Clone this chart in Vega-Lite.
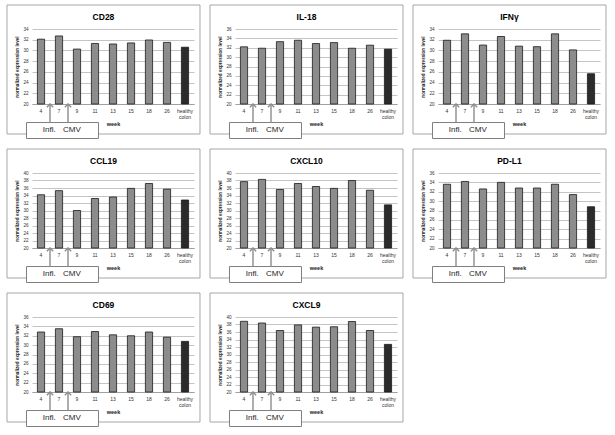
{
  "$schema": "https://vega.github.io/schema/vega-lite/v6.json",
  "padding": {"left": 6, "top": 4, "right": 4, "bottom": 2},
  "background": "white",
  "datasets": {
    "expr": [
      {"gene": "CD28", "week": "4", "value": 32.1}, {"gene": "CD28", "week": "7", "value": 32.7}, {"gene": "CD28", "week": "9", "value": 30.25}, {"gene": "CD28", "week": "11", "value": 31.3}, {"gene": "CD28", "week": "13", "value": 31.2}, {"gene": "CD28", "week": "15", "value": 31.4}, {"gene": "CD28", "week": "18", "value": 31.95}, {"gene": "CD28", "week": "26", "value": 31.5}, {"gene": "CD28", "week": "healthy colon", "value": 30.6},
      {"gene": "IL-18", "week": "4", "value": 32.2}, {"gene": "IL-18", "week": "7", "value": 31.9}, {"gene": "IL-18", "week": "9", "value": 33.3}, {"gene": "IL-18", "week": "11", "value": 33.6}, {"gene": "IL-18", "week": "13", "value": 32.9}, {"gene": "IL-18", "week": "15", "value": 33.1}, {"gene": "IL-18", "week": "18", "value": 31.9}, {"gene": "IL-18", "week": "26", "value": 32.55}, {"gene": "IL-18", "week": "healthy colon", "value": 31.7},
      {"gene": "IFNγ", "week": "4", "value": 31.9}, {"gene": "IFNγ", "week": "7", "value": 33.1}, {"gene": "IFNγ", "week": "9", "value": 31.0}, {"gene": "IFNγ", "week": "11", "value": 32.6}, {"gene": "IFNγ", "week": "13", "value": 30.8}, {"gene": "IFNγ", "week": "15", "value": 30.7}, {"gene": "IFNγ", "week": "18", "value": 33.1}, {"gene": "IFNγ", "week": "26", "value": 30.1}, {"gene": "IFNγ", "week": "healthy colon", "value": 25.65},
      {"gene": "CCL19", "week": "4", "value": 34.2}, {"gene": "CCL19", "week": "7", "value": 35.3}, {"gene": "CCL19", "week": "9", "value": 30.0}, {"gene": "CCL19", "week": "11", "value": 33.2}, {"gene": "CCL19", "week": "13", "value": 33.6}, {"gene": "CCL19", "week": "15", "value": 35.9}, {"gene": "CCL19", "week": "18", "value": 37.2}, {"gene": "CCL19", "week": "26", "value": 35.7}, {"gene": "CCL19", "week": "healthy colon", "value": 32.8},
      {"gene": "CXCL10", "week": "4", "value": 37.7}, {"gene": "CXCL10", "week": "7", "value": 38.3}, {"gene": "CXCL10", "week": "9", "value": 35.6}, {"gene": "CXCL10", "week": "11", "value": 37.2}, {"gene": "CXCL10", "week": "13", "value": 36.4}, {"gene": "CXCL10", "week": "15", "value": 35.9}, {"gene": "CXCL10", "week": "18", "value": 38.0}, {"gene": "CXCL10", "week": "26", "value": 35.4}, {"gene": "CXCL10", "week": "healthy colon", "value": 31.5},
      {"gene": "PD-L1", "week": "4", "value": 33.6}, {"gene": "PD-L1", "week": "7", "value": 34.2}, {"gene": "PD-L1", "week": "9", "value": 32.6}, {"gene": "PD-L1", "week": "11", "value": 34.0}, {"gene": "PD-L1", "week": "13", "value": 32.8}, {"gene": "PD-L1", "week": "15", "value": 32.8}, {"gene": "PD-L1", "week": "18", "value": 33.6}, {"gene": "PD-L1", "week": "26", "value": 31.4}, {"gene": "PD-L1", "week": "healthy colon", "value": 28.8},
      {"gene": "CD69", "week": "4", "value": 32.8}, {"gene": "CD69", "week": "7", "value": 33.5}, {"gene": "CD69", "week": "9", "value": 31.8}, {"gene": "CD69", "week": "11", "value": 32.9}, {"gene": "CD69", "week": "13", "value": 32.2}, {"gene": "CD69", "week": "15", "value": 32.0}, {"gene": "CD69", "week": "18", "value": 32.8}, {"gene": "CD69", "week": "26", "value": 31.7}, {"gene": "CD69", "week": "healthy colon", "value": 30.8},
      {"gene": "CXCL9", "week": "4", "value": 38.85}, {"gene": "CXCL9", "week": "7", "value": 38.4}, {"gene": "CXCL9", "week": "9", "value": 36.4}, {"gene": "CXCL9", "week": "11", "value": 37.9}, {"gene": "CXCL9", "week": "13", "value": 37.3}, {"gene": "CXCL9", "week": "15", "value": 37.4}, {"gene": "CXCL9", "week": "18", "value": 38.8}, {"gene": "CXCL9", "week": "26", "value": 36.4}, {"gene": "CXCL9", "week": "healthy colon", "value": 32.7}
    ],
    "one": [{}]
  },
  "data": {"name": "expr"},
  "columns": 3,
  "spacing": {"row": 9, "column": 8},
  "concat": [
    {"width": 162, "height": 75, "resolve": {"scale": {"x": "independent", "y": "independent"}},
      "layer": [
        {"transform": [{"filter": "datum.gene == 'CD28'"}], "mark": {"type": "bar", "stroke": "#1a1a1a", "strokeWidth": 0.8},
          "encoding": {"x": {"field": "week", "type": "ordinal", "sort": null, "title": "week", "scale": {"paddingInner": 0.6, "paddingOuter": 0.3}, "axis": {"labelExpr": "datum.value == 'healthy colon' ? ['healthy', 'colon'] : datum.label"}},
            "y": {"field": "value", "type": "quantitative", "title": "normalized expression level", "scale": {"domain": [20, 34], "nice": false, "zero": false}, "axis": {"values": [20, 22, 24, 26, 28, 30, 32, 34]}},
            "y2": {"datum": 20}, "color": {"condition": {"test": "datum.week == 'healthy colon'", "value": "#2b2b2b"}, "value": "#8c8c8c"}}},
        {"data": {"name": "one"}, "layer": [
          {"mark": {"type": "rect", "filled": false, "stroke": "#a6a6a6", "strokeWidth": 1}, "encoding": {"x": {"datum": -1.389, "type": "quantitative", "scale": {"domain": [0, 9], "nice": false, "zero": false}, "axis": null}, "x2": {"datum": 9.333}, "y": {"datum": 1.32, "type": "quantitative", "scale": {"domain": [0, 1], "nice": false, "zero": false}, "axis": null}, "y2": {"datum": -0.4}}},
          {"mark": {"type": "rect", "fill": "white", "stroke": "#7f7f7f", "strokeWidth": 1}, "encoding": {"x": {"datum": -0.306, "type": "quantitative", "scale": {"domain": [0, 9], "nice": false, "zero": false}, "axis": null}, "x2": {"datum": 3.694}, "y": {"datum": -0.247, "type": "quantitative", "scale": {"domain": [0, 1], "nice": false, "zero": false}, "axis": null}, "y2": {"datum": -0.46}}},
          {"mark": {"type": "rule", "stroke": "#8c8c8c", "strokeWidth": 1.4}, "encoding": {"x": {"datum": 1, "type": "quantitative", "scale": {"domain": [0, 9], "nice": false, "zero": false}, "axis": null}, "y": {"datum": -0.247, "type": "quantitative", "scale": {"domain": [0, 1], "nice": false, "zero": false}, "axis": null}, "y2": {"datum": 0.005}}},
          {"mark": {"type": "rule", "stroke": "#8c8c8c", "strokeWidth": 1.4}, "encoding": {"x": {"datum": 2, "type": "quantitative", "scale": {"domain": [0, 9], "nice": false, "zero": false}, "axis": null}, "y": {"datum": -0.247, "type": "quantitative", "scale": {"domain": [0, 1], "nice": false, "zero": false}, "axis": null}, "y2": {"datum": 0.005}}},
          {"mark": {"type": "point", "shape": "M-1,1L0,0L1,1", "filled": false, "size": 40, "stroke": "#8c8c8c", "strokeWidth": 1.4, "opacity": 1}, "encoding": {"x": {"datum": 1, "type": "quantitative", "scale": {"domain": [0, 9], "nice": false, "zero": false}, "axis": null}, "y": {"datum": 0, "type": "quantitative", "scale": {"domain": [0, 1], "nice": false, "zero": false}, "axis": null}}},
          {"mark": {"type": "point", "shape": "M-1,1L0,0L1,1", "filled": false, "size": 40, "stroke": "#8c8c8c", "strokeWidth": 1.4, "opacity": 1}, "encoding": {"x": {"datum": 2, "type": "quantitative", "scale": {"domain": [0, 9], "nice": false, "zero": false}, "axis": null}, "y": {"datum": 0, "type": "quantitative", "scale": {"domain": [0, 1], "nice": false, "zero": false}, "axis": null}}},
          {"mark": {"type": "text", "text": "Infl.", "fontSize": 8, "fill": "#262626", "baseline": "middle"}, "encoding": {"x": {"datum": 0.96, "type": "quantitative", "scale": {"domain": [0, 9], "nice": false, "zero": false}, "axis": null}, "y": {"datum": -0.353, "type": "quantitative", "scale": {"domain": [0, 1], "nice": false, "zero": false}, "axis": null}}},
          {"mark": {"type": "text", "text": "CMV", "fontSize": 8, "fill": "#262626", "baseline": "middle"}, "encoding": {"x": {"datum": 2.22, "type": "quantitative", "scale": {"domain": [0, 9], "nice": false, "zero": false}, "axis": null}, "y": {"datum": -0.353, "type": "quantitative", "scale": {"domain": [0, 1], "nice": false, "zero": false}, "axis": null}}},
          {"mark": {"type": "text", "text": "CD28", "fontSize": 8.5, "fontWeight": "bold", "fill": "#000000", "baseline": "middle"}, "encoding": {"x": {"datum": 3.97, "type": "quantitative", "scale": {"domain": [0, 9], "nice": false, "zero": false}, "axis": null}, "y": {"datum": 1.16, "type": "quantitative", "scale": {"domain": [0, 1], "nice": false, "zero": false}, "axis": null}}}
        ]}
      ]},
    {"width": 162, "height": 75, "resolve": {"scale": {"x": "independent", "y": "independent"}},
      "layer": [
        {"transform": [{"filter": "datum.gene == 'IL-18'"}], "mark": {"type": "bar", "stroke": "#1a1a1a", "strokeWidth": 0.8},
          "encoding": {"x": {"field": "week", "type": "ordinal", "sort": null, "title": "week", "scale": {"paddingInner": 0.6, "paddingOuter": 0.3}, "axis": {"labelExpr": "datum.value == 'healthy colon' ? ['healthy', 'colon'] : datum.label"}},
            "y": {"field": "value", "type": "quantitative", "title": "normalized expression level", "scale": {"domain": [20, 36], "nice": false, "zero": false}, "axis": {"values": [20, 22, 24, 26, 28, 30, 32, 34, 36]}},
            "y2": {"datum": 20}, "color": {"condition": {"test": "datum.week == 'healthy colon'", "value": "#2b2b2b"}, "value": "#8c8c8c"}}},
        {"data": {"name": "one"}, "layer": [
          {"mark": {"type": "rect", "filled": false, "stroke": "#a6a6a6", "strokeWidth": 1}, "encoding": {"x": {"datum": -1.389, "type": "quantitative", "scale": {"domain": [0, 9], "nice": false, "zero": false}, "axis": null}, "x2": {"datum": 9.333}, "y": {"datum": 1.32, "type": "quantitative", "scale": {"domain": [0, 1], "nice": false, "zero": false}, "axis": null}, "y2": {"datum": -0.4}}},
          {"mark": {"type": "rect", "fill": "white", "stroke": "#7f7f7f", "strokeWidth": 1}, "encoding": {"x": {"datum": -0.306, "type": "quantitative", "scale": {"domain": [0, 9], "nice": false, "zero": false}, "axis": null}, "x2": {"datum": 3.694}, "y": {"datum": -0.247, "type": "quantitative", "scale": {"domain": [0, 1], "nice": false, "zero": false}, "axis": null}, "y2": {"datum": -0.46}}},
          {"mark": {"type": "rule", "stroke": "#8c8c8c", "strokeWidth": 1.4}, "encoding": {"x": {"datum": 1, "type": "quantitative", "scale": {"domain": [0, 9], "nice": false, "zero": false}, "axis": null}, "y": {"datum": -0.247, "type": "quantitative", "scale": {"domain": [0, 1], "nice": false, "zero": false}, "axis": null}, "y2": {"datum": 0.005}}},
          {"mark": {"type": "rule", "stroke": "#8c8c8c", "strokeWidth": 1.4}, "encoding": {"x": {"datum": 2, "type": "quantitative", "scale": {"domain": [0, 9], "nice": false, "zero": false}, "axis": null}, "y": {"datum": -0.247, "type": "quantitative", "scale": {"domain": [0, 1], "nice": false, "zero": false}, "axis": null}, "y2": {"datum": 0.005}}},
          {"mark": {"type": "point", "shape": "M-1,1L0,0L1,1", "filled": false, "size": 40, "stroke": "#8c8c8c", "strokeWidth": 1.4, "opacity": 1}, "encoding": {"x": {"datum": 1, "type": "quantitative", "scale": {"domain": [0, 9], "nice": false, "zero": false}, "axis": null}, "y": {"datum": 0, "type": "quantitative", "scale": {"domain": [0, 1], "nice": false, "zero": false}, "axis": null}}},
          {"mark": {"type": "point", "shape": "M-1,1L0,0L1,1", "filled": false, "size": 40, "stroke": "#8c8c8c", "strokeWidth": 1.4, "opacity": 1}, "encoding": {"x": {"datum": 2, "type": "quantitative", "scale": {"domain": [0, 9], "nice": false, "zero": false}, "axis": null}, "y": {"datum": 0, "type": "quantitative", "scale": {"domain": [0, 1], "nice": false, "zero": false}, "axis": null}}},
          {"mark": {"type": "text", "text": "Infl.", "fontSize": 8, "fill": "#262626", "baseline": "middle"}, "encoding": {"x": {"datum": 0.96, "type": "quantitative", "scale": {"domain": [0, 9], "nice": false, "zero": false}, "axis": null}, "y": {"datum": -0.353, "type": "quantitative", "scale": {"domain": [0, 1], "nice": false, "zero": false}, "axis": null}}},
          {"mark": {"type": "text", "text": "CMV", "fontSize": 8, "fill": "#262626", "baseline": "middle"}, "encoding": {"x": {"datum": 2.22, "type": "quantitative", "scale": {"domain": [0, 9], "nice": false, "zero": false}, "axis": null}, "y": {"datum": -0.353, "type": "quantitative", "scale": {"domain": [0, 1], "nice": false, "zero": false}, "axis": null}}},
          {"mark": {"type": "text", "text": "IL-18", "fontSize": 8.5, "fontWeight": "bold", "fill": "#000000", "baseline": "middle"}, "encoding": {"x": {"datum": 3.97, "type": "quantitative", "scale": {"domain": [0, 9], "nice": false, "zero": false}, "axis": null}, "y": {"datum": 1.16, "type": "quantitative", "scale": {"domain": [0, 1], "nice": false, "zero": false}, "axis": null}}}
        ]}
      ]},
    {"width": 162, "height": 75, "resolve": {"scale": {"x": "independent", "y": "independent"}},
      "layer": [
        {"transform": [{"filter": "datum.gene == 'IFNγ'"}], "mark": {"type": "bar", "stroke": "#1a1a1a", "strokeWidth": 0.8},
          "encoding": {"x": {"field": "week", "type": "ordinal", "sort": null, "title": "week", "scale": {"paddingInner": 0.6, "paddingOuter": 0.3}, "axis": {"labelExpr": "datum.value == 'healthy colon' ? ['healthy', 'colon'] : datum.label"}},
            "y": {"field": "value", "type": "quantitative", "title": "normalized expression level", "scale": {"domain": [20, 34], "nice": false, "zero": false}, "axis": {"values": [20, 22, 24, 26, 28, 30, 32, 34]}},
            "y2": {"datum": 20}, "color": {"condition": {"test": "datum.week == 'healthy colon'", "value": "#2b2b2b"}, "value": "#8c8c8c"}}},
        {"data": {"name": "one"}, "layer": [
          {"mark": {"type": "rect", "filled": false, "stroke": "#a6a6a6", "strokeWidth": 1}, "encoding": {"x": {"datum": -1.389, "type": "quantitative", "scale": {"domain": [0, 9], "nice": false, "zero": false}, "axis": null}, "x2": {"datum": 9.333}, "y": {"datum": 1.32, "type": "quantitative", "scale": {"domain": [0, 1], "nice": false, "zero": false}, "axis": null}, "y2": {"datum": -0.4}}},
          {"mark": {"type": "rect", "fill": "white", "stroke": "#7f7f7f", "strokeWidth": 1}, "encoding": {"x": {"datum": -0.306, "type": "quantitative", "scale": {"domain": [0, 9], "nice": false, "zero": false}, "axis": null}, "x2": {"datum": 3.694}, "y": {"datum": -0.247, "type": "quantitative", "scale": {"domain": [0, 1], "nice": false, "zero": false}, "axis": null}, "y2": {"datum": -0.46}}},
          {"mark": {"type": "rule", "stroke": "#8c8c8c", "strokeWidth": 1.4}, "encoding": {"x": {"datum": 1, "type": "quantitative", "scale": {"domain": [0, 9], "nice": false, "zero": false}, "axis": null}, "y": {"datum": -0.247, "type": "quantitative", "scale": {"domain": [0, 1], "nice": false, "zero": false}, "axis": null}, "y2": {"datum": 0.005}}},
          {"mark": {"type": "rule", "stroke": "#8c8c8c", "strokeWidth": 1.4}, "encoding": {"x": {"datum": 2, "type": "quantitative", "scale": {"domain": [0, 9], "nice": false, "zero": false}, "axis": null}, "y": {"datum": -0.247, "type": "quantitative", "scale": {"domain": [0, 1], "nice": false, "zero": false}, "axis": null}, "y2": {"datum": 0.005}}},
          {"mark": {"type": "point", "shape": "M-1,1L0,0L1,1", "filled": false, "size": 40, "stroke": "#8c8c8c", "strokeWidth": 1.4, "opacity": 1}, "encoding": {"x": {"datum": 1, "type": "quantitative", "scale": {"domain": [0, 9], "nice": false, "zero": false}, "axis": null}, "y": {"datum": 0, "type": "quantitative", "scale": {"domain": [0, 1], "nice": false, "zero": false}, "axis": null}}},
          {"mark": {"type": "point", "shape": "M-1,1L0,0L1,1", "filled": false, "size": 40, "stroke": "#8c8c8c", "strokeWidth": 1.4, "opacity": 1}, "encoding": {"x": {"datum": 2, "type": "quantitative", "scale": {"domain": [0, 9], "nice": false, "zero": false}, "axis": null}, "y": {"datum": 0, "type": "quantitative", "scale": {"domain": [0, 1], "nice": false, "zero": false}, "axis": null}}},
          {"mark": {"type": "text", "text": "Infl.", "fontSize": 8, "fill": "#262626", "baseline": "middle"}, "encoding": {"x": {"datum": 0.96, "type": "quantitative", "scale": {"domain": [0, 9], "nice": false, "zero": false}, "axis": null}, "y": {"datum": -0.353, "type": "quantitative", "scale": {"domain": [0, 1], "nice": false, "zero": false}, "axis": null}}},
          {"mark": {"type": "text", "text": "CMV", "fontSize": 8, "fill": "#262626", "baseline": "middle"}, "encoding": {"x": {"datum": 2.22, "type": "quantitative", "scale": {"domain": [0, 9], "nice": false, "zero": false}, "axis": null}, "y": {"datum": -0.353, "type": "quantitative", "scale": {"domain": [0, 1], "nice": false, "zero": false}, "axis": null}}},
          {"mark": {"type": "text", "text": "IFNγ", "fontSize": 8.5, "fontWeight": "bold", "fill": "#000000", "baseline": "middle"}, "encoding": {"x": {"datum": 3.97, "type": "quantitative", "scale": {"domain": [0, 9], "nice": false, "zero": false}, "axis": null}, "y": {"datum": 1.16, "type": "quantitative", "scale": {"domain": [0, 1], "nice": false, "zero": false}, "axis": null}}}
        ]}
      ]},
    {"width": 162, "height": 75, "resolve": {"scale": {"x": "independent", "y": "independent"}},
      "layer": [
        {"transform": [{"filter": "datum.gene == 'CCL19'"}], "mark": {"type": "bar", "stroke": "#1a1a1a", "strokeWidth": 0.8},
          "encoding": {"x": {"field": "week", "type": "ordinal", "sort": null, "title": "week", "scale": {"paddingInner": 0.6, "paddingOuter": 0.3}, "axis": {"labelExpr": "datum.value == 'healthy colon' ? ['healthy', 'colon'] : datum.label"}},
            "y": {"field": "value", "type": "quantitative", "title": "normalized expression level", "scale": {"domain": [20, 40], "nice": false, "zero": false}, "axis": {"values": [20, 22, 24, 26, 28, 30, 32, 34, 36, 38, 40]}},
            "y2": {"datum": 20}, "color": {"condition": {"test": "datum.week == 'healthy colon'", "value": "#2b2b2b"}, "value": "#8c8c8c"}}},
        {"data": {"name": "one"}, "layer": [
          {"mark": {"type": "rect", "filled": false, "stroke": "#a6a6a6", "strokeWidth": 1}, "encoding": {"x": {"datum": -1.389, "type": "quantitative", "scale": {"domain": [0, 9], "nice": false, "zero": false}, "axis": null}, "x2": {"datum": 9.333}, "y": {"datum": 1.32, "type": "quantitative", "scale": {"domain": [0, 1], "nice": false, "zero": false}, "axis": null}, "y2": {"datum": -0.4}}},
          {"mark": {"type": "rect", "fill": "white", "stroke": "#7f7f7f", "strokeWidth": 1}, "encoding": {"x": {"datum": -0.306, "type": "quantitative", "scale": {"domain": [0, 9], "nice": false, "zero": false}, "axis": null}, "x2": {"datum": 3.694}, "y": {"datum": -0.247, "type": "quantitative", "scale": {"domain": [0, 1], "nice": false, "zero": false}, "axis": null}, "y2": {"datum": -0.46}}},
          {"mark": {"type": "rule", "stroke": "#8c8c8c", "strokeWidth": 1.4}, "encoding": {"x": {"datum": 1, "type": "quantitative", "scale": {"domain": [0, 9], "nice": false, "zero": false}, "axis": null}, "y": {"datum": -0.247, "type": "quantitative", "scale": {"domain": [0, 1], "nice": false, "zero": false}, "axis": null}, "y2": {"datum": 0.005}}},
          {"mark": {"type": "rule", "stroke": "#8c8c8c", "strokeWidth": 1.4}, "encoding": {"x": {"datum": 2, "type": "quantitative", "scale": {"domain": [0, 9], "nice": false, "zero": false}, "axis": null}, "y": {"datum": -0.247, "type": "quantitative", "scale": {"domain": [0, 1], "nice": false, "zero": false}, "axis": null}, "y2": {"datum": 0.005}}},
          {"mark": {"type": "point", "shape": "M-1,1L0,0L1,1", "filled": false, "size": 40, "stroke": "#8c8c8c", "strokeWidth": 1.4, "opacity": 1}, "encoding": {"x": {"datum": 1, "type": "quantitative", "scale": {"domain": [0, 9], "nice": false, "zero": false}, "axis": null}, "y": {"datum": 0, "type": "quantitative", "scale": {"domain": [0, 1], "nice": false, "zero": false}, "axis": null}}},
          {"mark": {"type": "point", "shape": "M-1,1L0,0L1,1", "filled": false, "size": 40, "stroke": "#8c8c8c", "strokeWidth": 1.4, "opacity": 1}, "encoding": {"x": {"datum": 2, "type": "quantitative", "scale": {"domain": [0, 9], "nice": false, "zero": false}, "axis": null}, "y": {"datum": 0, "type": "quantitative", "scale": {"domain": [0, 1], "nice": false, "zero": false}, "axis": null}}},
          {"mark": {"type": "text", "text": "Infl.", "fontSize": 8, "fill": "#262626", "baseline": "middle"}, "encoding": {"x": {"datum": 0.96, "type": "quantitative", "scale": {"domain": [0, 9], "nice": false, "zero": false}, "axis": null}, "y": {"datum": -0.353, "type": "quantitative", "scale": {"domain": [0, 1], "nice": false, "zero": false}, "axis": null}}},
          {"mark": {"type": "text", "text": "CMV", "fontSize": 8, "fill": "#262626", "baseline": "middle"}, "encoding": {"x": {"datum": 2.22, "type": "quantitative", "scale": {"domain": [0, 9], "nice": false, "zero": false}, "axis": null}, "y": {"datum": -0.353, "type": "quantitative", "scale": {"domain": [0, 1], "nice": false, "zero": false}, "axis": null}}},
          {"mark": {"type": "text", "text": "CCL19", "fontSize": 8.5, "fontWeight": "bold", "fill": "#000000", "baseline": "middle"}, "encoding": {"x": {"datum": 3.97, "type": "quantitative", "scale": {"domain": [0, 9], "nice": false, "zero": false}, "axis": null}, "y": {"datum": 1.16, "type": "quantitative", "scale": {"domain": [0, 1], "nice": false, "zero": false}, "axis": null}}}
        ]}
      ]},
    {"width": 162, "height": 75, "resolve": {"scale": {"x": "independent", "y": "independent"}},
      "layer": [
        {"transform": [{"filter": "datum.gene == 'CXCL10'"}], "mark": {"type": "bar", "stroke": "#1a1a1a", "strokeWidth": 0.8},
          "encoding": {"x": {"field": "week", "type": "ordinal", "sort": null, "title": "week", "scale": {"paddingInner": 0.6, "paddingOuter": 0.3}, "axis": {"labelExpr": "datum.value == 'healthy colon' ? ['healthy', 'colon'] : datum.label"}},
            "y": {"field": "value", "type": "quantitative", "title": "normalized expression level", "scale": {"domain": [20, 40], "nice": false, "zero": false}, "axis": {"values": [20, 22, 24, 26, 28, 30, 32, 34, 36, 38, 40]}},
            "y2": {"datum": 20}, "color": {"condition": {"test": "datum.week == 'healthy colon'", "value": "#2b2b2b"}, "value": "#8c8c8c"}}},
        {"data": {"name": "one"}, "layer": [
          {"mark": {"type": "rect", "filled": false, "stroke": "#a6a6a6", "strokeWidth": 1}, "encoding": {"x": {"datum": -1.389, "type": "quantitative", "scale": {"domain": [0, 9], "nice": false, "zero": false}, "axis": null}, "x2": {"datum": 9.333}, "y": {"datum": 1.32, "type": "quantitative", "scale": {"domain": [0, 1], "nice": false, "zero": false}, "axis": null}, "y2": {"datum": -0.4}}},
          {"mark": {"type": "rect", "fill": "white", "stroke": "#7f7f7f", "strokeWidth": 1}, "encoding": {"x": {"datum": -0.306, "type": "quantitative", "scale": {"domain": [0, 9], "nice": false, "zero": false}, "axis": null}, "x2": {"datum": 3.694}, "y": {"datum": -0.247, "type": "quantitative", "scale": {"domain": [0, 1], "nice": false, "zero": false}, "axis": null}, "y2": {"datum": -0.46}}},
          {"mark": {"type": "rule", "stroke": "#8c8c8c", "strokeWidth": 1.4}, "encoding": {"x": {"datum": 1, "type": "quantitative", "scale": {"domain": [0, 9], "nice": false, "zero": false}, "axis": null}, "y": {"datum": -0.247, "type": "quantitative", "scale": {"domain": [0, 1], "nice": false, "zero": false}, "axis": null}, "y2": {"datum": 0.005}}},
          {"mark": {"type": "rule", "stroke": "#8c8c8c", "strokeWidth": 1.4}, "encoding": {"x": {"datum": 2, "type": "quantitative", "scale": {"domain": [0, 9], "nice": false, "zero": false}, "axis": null}, "y": {"datum": -0.247, "type": "quantitative", "scale": {"domain": [0, 1], "nice": false, "zero": false}, "axis": null}, "y2": {"datum": 0.005}}},
          {"mark": {"type": "point", "shape": "M-1,1L0,0L1,1", "filled": false, "size": 40, "stroke": "#8c8c8c", "strokeWidth": 1.4, "opacity": 1}, "encoding": {"x": {"datum": 1, "type": "quantitative", "scale": {"domain": [0, 9], "nice": false, "zero": false}, "axis": null}, "y": {"datum": 0, "type": "quantitative", "scale": {"domain": [0, 1], "nice": false, "zero": false}, "axis": null}}},
          {"mark": {"type": "point", "shape": "M-1,1L0,0L1,1", "filled": false, "size": 40, "stroke": "#8c8c8c", "strokeWidth": 1.4, "opacity": 1}, "encoding": {"x": {"datum": 2, "type": "quantitative", "scale": {"domain": [0, 9], "nice": false, "zero": false}, "axis": null}, "y": {"datum": 0, "type": "quantitative", "scale": {"domain": [0, 1], "nice": false, "zero": false}, "axis": null}}},
          {"mark": {"type": "text", "text": "Infl.", "fontSize": 8, "fill": "#262626", "baseline": "middle"}, "encoding": {"x": {"datum": 0.96, "type": "quantitative", "scale": {"domain": [0, 9], "nice": false, "zero": false}, "axis": null}, "y": {"datum": -0.353, "type": "quantitative", "scale": {"domain": [0, 1], "nice": false, "zero": false}, "axis": null}}},
          {"mark": {"type": "text", "text": "CMV", "fontSize": 8, "fill": "#262626", "baseline": "middle"}, "encoding": {"x": {"datum": 2.22, "type": "quantitative", "scale": {"domain": [0, 9], "nice": false, "zero": false}, "axis": null}, "y": {"datum": -0.353, "type": "quantitative", "scale": {"domain": [0, 1], "nice": false, "zero": false}, "axis": null}}},
          {"mark": {"type": "text", "text": "CXCL10", "fontSize": 8.5, "fontWeight": "bold", "fill": "#000000", "baseline": "middle"}, "encoding": {"x": {"datum": 3.97, "type": "quantitative", "scale": {"domain": [0, 9], "nice": false, "zero": false}, "axis": null}, "y": {"datum": 1.16, "type": "quantitative", "scale": {"domain": [0, 1], "nice": false, "zero": false}, "axis": null}}}
        ]}
      ]},
    {"width": 162, "height": 75, "resolve": {"scale": {"x": "independent", "y": "independent"}},
      "layer": [
        {"transform": [{"filter": "datum.gene == 'PD-L1'"}], "mark": {"type": "bar", "stroke": "#1a1a1a", "strokeWidth": 0.8},
          "encoding": {"x": {"field": "week", "type": "ordinal", "sort": null, "title": "week", "scale": {"paddingInner": 0.6, "paddingOuter": 0.3}, "axis": {"labelExpr": "datum.value == 'healthy colon' ? ['healthy', 'colon'] : datum.label"}},
            "y": {"field": "value", "type": "quantitative", "title": "normalized expression level", "scale": {"domain": [20, 36], "nice": false, "zero": false}, "axis": {"values": [20, 22, 24, 26, 28, 30, 32, 34, 36]}},
            "y2": {"datum": 20}, "color": {"condition": {"test": "datum.week == 'healthy colon'", "value": "#2b2b2b"}, "value": "#8c8c8c"}}},
        {"data": {"name": "one"}, "layer": [
          {"mark": {"type": "rect", "filled": false, "stroke": "#a6a6a6", "strokeWidth": 1}, "encoding": {"x": {"datum": -1.389, "type": "quantitative", "scale": {"domain": [0, 9], "nice": false, "zero": false}, "axis": null}, "x2": {"datum": 9.333}, "y": {"datum": 1.32, "type": "quantitative", "scale": {"domain": [0, 1], "nice": false, "zero": false}, "axis": null}, "y2": {"datum": -0.4}}},
          {"mark": {"type": "rect", "fill": "white", "stroke": "#7f7f7f", "strokeWidth": 1}, "encoding": {"x": {"datum": -0.306, "type": "quantitative", "scale": {"domain": [0, 9], "nice": false, "zero": false}, "axis": null}, "x2": {"datum": 3.694}, "y": {"datum": -0.247, "type": "quantitative", "scale": {"domain": [0, 1], "nice": false, "zero": false}, "axis": null}, "y2": {"datum": -0.46}}},
          {"mark": {"type": "rule", "stroke": "#8c8c8c", "strokeWidth": 1.4}, "encoding": {"x": {"datum": 1, "type": "quantitative", "scale": {"domain": [0, 9], "nice": false, "zero": false}, "axis": null}, "y": {"datum": -0.247, "type": "quantitative", "scale": {"domain": [0, 1], "nice": false, "zero": false}, "axis": null}, "y2": {"datum": 0.005}}},
          {"mark": {"type": "rule", "stroke": "#8c8c8c", "strokeWidth": 1.4}, "encoding": {"x": {"datum": 2, "type": "quantitative", "scale": {"domain": [0, 9], "nice": false, "zero": false}, "axis": null}, "y": {"datum": -0.247, "type": "quantitative", "scale": {"domain": [0, 1], "nice": false, "zero": false}, "axis": null}, "y2": {"datum": 0.005}}},
          {"mark": {"type": "point", "shape": "M-1,1L0,0L1,1", "filled": false, "size": 40, "stroke": "#8c8c8c", "strokeWidth": 1.4, "opacity": 1}, "encoding": {"x": {"datum": 1, "type": "quantitative", "scale": {"domain": [0, 9], "nice": false, "zero": false}, "axis": null}, "y": {"datum": 0, "type": "quantitative", "scale": {"domain": [0, 1], "nice": false, "zero": false}, "axis": null}}},
          {"mark": {"type": "point", "shape": "M-1,1L0,0L1,1", "filled": false, "size": 40, "stroke": "#8c8c8c", "strokeWidth": 1.4, "opacity": 1}, "encoding": {"x": {"datum": 2, "type": "quantitative", "scale": {"domain": [0, 9], "nice": false, "zero": false}, "axis": null}, "y": {"datum": 0, "type": "quantitative", "scale": {"domain": [0, 1], "nice": false, "zero": false}, "axis": null}}},
          {"mark": {"type": "text", "text": "Infl.", "fontSize": 8, "fill": "#262626", "baseline": "middle"}, "encoding": {"x": {"datum": 0.96, "type": "quantitative", "scale": {"domain": [0, 9], "nice": false, "zero": false}, "axis": null}, "y": {"datum": -0.353, "type": "quantitative", "scale": {"domain": [0, 1], "nice": false, "zero": false}, "axis": null}}},
          {"mark": {"type": "text", "text": "CMV", "fontSize": 8, "fill": "#262626", "baseline": "middle"}, "encoding": {"x": {"datum": 2.22, "type": "quantitative", "scale": {"domain": [0, 9], "nice": false, "zero": false}, "axis": null}, "y": {"datum": -0.353, "type": "quantitative", "scale": {"domain": [0, 1], "nice": false, "zero": false}, "axis": null}}},
          {"mark": {"type": "text", "text": "PD-L1", "fontSize": 8.5, "fontWeight": "bold", "fill": "#000000", "baseline": "middle"}, "encoding": {"x": {"datum": 3.97, "type": "quantitative", "scale": {"domain": [0, 9], "nice": false, "zero": false}, "axis": null}, "y": {"datum": 1.16, "type": "quantitative", "scale": {"domain": [0, 1], "nice": false, "zero": false}, "axis": null}}}
        ]}
      ]},
    {"width": 162, "height": 75, "resolve": {"scale": {"x": "independent", "y": "independent"}},
      "layer": [
        {"transform": [{"filter": "datum.gene == 'CD69'"}], "mark": {"type": "bar", "stroke": "#1a1a1a", "strokeWidth": 0.8},
          "encoding": {"x": {"field": "week", "type": "ordinal", "sort": null, "title": "week", "scale": {"paddingInner": 0.6, "paddingOuter": 0.3}, "axis": {"labelExpr": "datum.value == 'healthy colon' ? ['healthy', 'colon'] : datum.label"}},
            "y": {"field": "value", "type": "quantitative", "title": "normalized expression level", "scale": {"domain": [20, 36], "nice": false, "zero": false}, "axis": {"values": [20, 22, 24, 26, 28, 30, 32, 34, 36]}},
            "y2": {"datum": 20}, "color": {"condition": {"test": "datum.week == 'healthy colon'", "value": "#2b2b2b"}, "value": "#8c8c8c"}}},
        {"data": {"name": "one"}, "layer": [
          {"mark": {"type": "rect", "filled": false, "stroke": "#a6a6a6", "strokeWidth": 1}, "encoding": {"x": {"datum": -1.389, "type": "quantitative", "scale": {"domain": [0, 9], "nice": false, "zero": false}, "axis": null}, "x2": {"datum": 9.333}, "y": {"datum": 1.32, "type": "quantitative", "scale": {"domain": [0, 1], "nice": false, "zero": false}, "axis": null}, "y2": {"datum": -0.4}}},
          {"mark": {"type": "rect", "fill": "white", "stroke": "#7f7f7f", "strokeWidth": 1}, "encoding": {"x": {"datum": -0.306, "type": "quantitative", "scale": {"domain": [0, 9], "nice": false, "zero": false}, "axis": null}, "x2": {"datum": 3.694}, "y": {"datum": -0.247, "type": "quantitative", "scale": {"domain": [0, 1], "nice": false, "zero": false}, "axis": null}, "y2": {"datum": -0.46}}},
          {"mark": {"type": "rule", "stroke": "#8c8c8c", "strokeWidth": 1.4}, "encoding": {"x": {"datum": 1, "type": "quantitative", "scale": {"domain": [0, 9], "nice": false, "zero": false}, "axis": null}, "y": {"datum": -0.247, "type": "quantitative", "scale": {"domain": [0, 1], "nice": false, "zero": false}, "axis": null}, "y2": {"datum": 0.005}}},
          {"mark": {"type": "rule", "stroke": "#8c8c8c", "strokeWidth": 1.4}, "encoding": {"x": {"datum": 2, "type": "quantitative", "scale": {"domain": [0, 9], "nice": false, "zero": false}, "axis": null}, "y": {"datum": -0.247, "type": "quantitative", "scale": {"domain": [0, 1], "nice": false, "zero": false}, "axis": null}, "y2": {"datum": 0.005}}},
          {"mark": {"type": "point", "shape": "M-1,1L0,0L1,1", "filled": false, "size": 40, "stroke": "#8c8c8c", "strokeWidth": 1.4, "opacity": 1}, "encoding": {"x": {"datum": 1, "type": "quantitative", "scale": {"domain": [0, 9], "nice": false, "zero": false}, "axis": null}, "y": {"datum": 0, "type": "quantitative", "scale": {"domain": [0, 1], "nice": false, "zero": false}, "axis": null}}},
          {"mark": {"type": "point", "shape": "M-1,1L0,0L1,1", "filled": false, "size": 40, "stroke": "#8c8c8c", "strokeWidth": 1.4, "opacity": 1}, "encoding": {"x": {"datum": 2, "type": "quantitative", "scale": {"domain": [0, 9], "nice": false, "zero": false}, "axis": null}, "y": {"datum": 0, "type": "quantitative", "scale": {"domain": [0, 1], "nice": false, "zero": false}, "axis": null}}},
          {"mark": {"type": "text", "text": "Infl.", "fontSize": 8, "fill": "#262626", "baseline": "middle"}, "encoding": {"x": {"datum": 0.96, "type": "quantitative", "scale": {"domain": [0, 9], "nice": false, "zero": false}, "axis": null}, "y": {"datum": -0.353, "type": "quantitative", "scale": {"domain": [0, 1], "nice": false, "zero": false}, "axis": null}}},
          {"mark": {"type": "text", "text": "CMV", "fontSize": 8, "fill": "#262626", "baseline": "middle"}, "encoding": {"x": {"datum": 2.22, "type": "quantitative", "scale": {"domain": [0, 9], "nice": false, "zero": false}, "axis": null}, "y": {"datum": -0.353, "type": "quantitative", "scale": {"domain": [0, 1], "nice": false, "zero": false}, "axis": null}}},
          {"mark": {"type": "text", "text": "CD69", "fontSize": 8.5, "fontWeight": "bold", "fill": "#000000", "baseline": "middle"}, "encoding": {"x": {"datum": 3.97, "type": "quantitative", "scale": {"domain": [0, 9], "nice": false, "zero": false}, "axis": null}, "y": {"datum": 1.16, "type": "quantitative", "scale": {"domain": [0, 1], "nice": false, "zero": false}, "axis": null}}}
        ]}
      ]},
    {"width": 162, "height": 75, "resolve": {"scale": {"x": "independent", "y": "independent"}},
      "layer": [
        {"transform": [{"filter": "datum.gene == 'CXCL9'"}], "mark": {"type": "bar", "stroke": "#1a1a1a", "strokeWidth": 0.8},
          "encoding": {"x": {"field": "week", "type": "ordinal", "sort": null, "title": "week", "scale": {"paddingInner": 0.6, "paddingOuter": 0.3}, "axis": {"labelExpr": "datum.value == 'healthy colon' ? ['healthy', 'colon'] : datum.label"}},
            "y": {"field": "value", "type": "quantitative", "title": "normalized expression level", "scale": {"domain": [20, 40], "nice": false, "zero": false}, "axis": {"values": [20, 22, 24, 26, 28, 30, 32, 34, 36, 38, 40]}},
            "y2": {"datum": 20}, "color": {"condition": {"test": "datum.week == 'healthy colon'", "value": "#2b2b2b"}, "value": "#8c8c8c"}}},
        {"data": {"name": "one"}, "layer": [
          {"mark": {"type": "rect", "filled": false, "stroke": "#a6a6a6", "strokeWidth": 1}, "encoding": {"x": {"datum": -1.389, "type": "quantitative", "scale": {"domain": [0, 9], "nice": false, "zero": false}, "axis": null}, "x2": {"datum": 9.333}, "y": {"datum": 1.32, "type": "quantitative", "scale": {"domain": [0, 1], "nice": false, "zero": false}, "axis": null}, "y2": {"datum": -0.4}}},
          {"mark": {"type": "rect", "fill": "white", "stroke": "#7f7f7f", "strokeWidth": 1}, "encoding": {"x": {"datum": -0.306, "type": "quantitative", "scale": {"domain": [0, 9], "nice": false, "zero": false}, "axis": null}, "x2": {"datum": 3.694}, "y": {"datum": -0.247, "type": "quantitative", "scale": {"domain": [0, 1], "nice": false, "zero": false}, "axis": null}, "y2": {"datum": -0.46}}},
          {"mark": {"type": "rule", "stroke": "#8c8c8c", "strokeWidth": 1.4}, "encoding": {"x": {"datum": 1, "type": "quantitative", "scale": {"domain": [0, 9], "nice": false, "zero": false}, "axis": null}, "y": {"datum": -0.247, "type": "quantitative", "scale": {"domain": [0, 1], "nice": false, "zero": false}, "axis": null}, "y2": {"datum": 0.005}}},
          {"mark": {"type": "rule", "stroke": "#8c8c8c", "strokeWidth": 1.4}, "encoding": {"x": {"datum": 2, "type": "quantitative", "scale": {"domain": [0, 9], "nice": false, "zero": false}, "axis": null}, "y": {"datum": -0.247, "type": "quantitative", "scale": {"domain": [0, 1], "nice": false, "zero": false}, "axis": null}, "y2": {"datum": 0.005}}},
          {"mark": {"type": "point", "shape": "M-1,1L0,0L1,1", "filled": false, "size": 40, "stroke": "#8c8c8c", "strokeWidth": 1.4, "opacity": 1}, "encoding": {"x": {"datum": 1, "type": "quantitative", "scale": {"domain": [0, 9], "nice": false, "zero": false}, "axis": null}, "y": {"datum": 0, "type": "quantitative", "scale": {"domain": [0, 1], "nice": false, "zero": false}, "axis": null}}},
          {"mark": {"type": "point", "shape": "M-1,1L0,0L1,1", "filled": false, "size": 40, "stroke": "#8c8c8c", "strokeWidth": 1.4, "opacity": 1}, "encoding": {"x": {"datum": 2, "type": "quantitative", "scale": {"domain": [0, 9], "nice": false, "zero": false}, "axis": null}, "y": {"datum": 0, "type": "quantitative", "scale": {"domain": [0, 1], "nice": false, "zero": false}, "axis": null}}},
          {"mark": {"type": "text", "text": "Infl.", "fontSize": 8, "fill": "#262626", "baseline": "middle"}, "encoding": {"x": {"datum": 0.96, "type": "quantitative", "scale": {"domain": [0, 9], "nice": false, "zero": false}, "axis": null}, "y": {"datum": -0.353, "type": "quantitative", "scale": {"domain": [0, 1], "nice": false, "zero": false}, "axis": null}}},
          {"mark": {"type": "text", "text": "CMV", "fontSize": 8, "fill": "#262626", "baseline": "middle"}, "encoding": {"x": {"datum": 2.22, "type": "quantitative", "scale": {"domain": [0, 9], "nice": false, "zero": false}, "axis": null}, "y": {"datum": -0.353, "type": "quantitative", "scale": {"domain": [0, 1], "nice": false, "zero": false}, "axis": null}}},
          {"mark": {"type": "text", "text": "CXCL9", "fontSize": 8.5, "fontWeight": "bold", "fill": "#000000", "baseline": "middle"}, "encoding": {"x": {"datum": 3.97, "type": "quantitative", "scale": {"domain": [0, 9], "nice": false, "zero": false}, "axis": null}, "y": {"datum": 1.16, "type": "quantitative", "scale": {"domain": [0, 1], "nice": false, "zero": false}, "axis": null}}}
        ]}
      ]}
  ],
  "config": {
    "font": "Liberation Sans",
    "view": {"stroke": null},
    "axisX": {"labelAngle": 0, "labelFontSize": 5, "labelColor": "#333333", "ticks": false, "domainColor": "#a0a0a0", "grid": false, "labelPadding": 4, "titleFontSize": 5.5, "titleFontWeight": "bold", "titleColor": "#222222", "titlePadding": 2, "labelOverlap": false, "labelLineHeight": 6},
    "axisY": {"labelFontSize": 4.6, "labelColor": "#333333", "ticks": false, "domain": false, "grid": true, "gridColor": "#c4c4c4", "labelPadding": 4, "titleFontSize": 4.6, "titleFontWeight": "bold", "titleColor": "#222222", "titlePadding": 3}
  }
}
